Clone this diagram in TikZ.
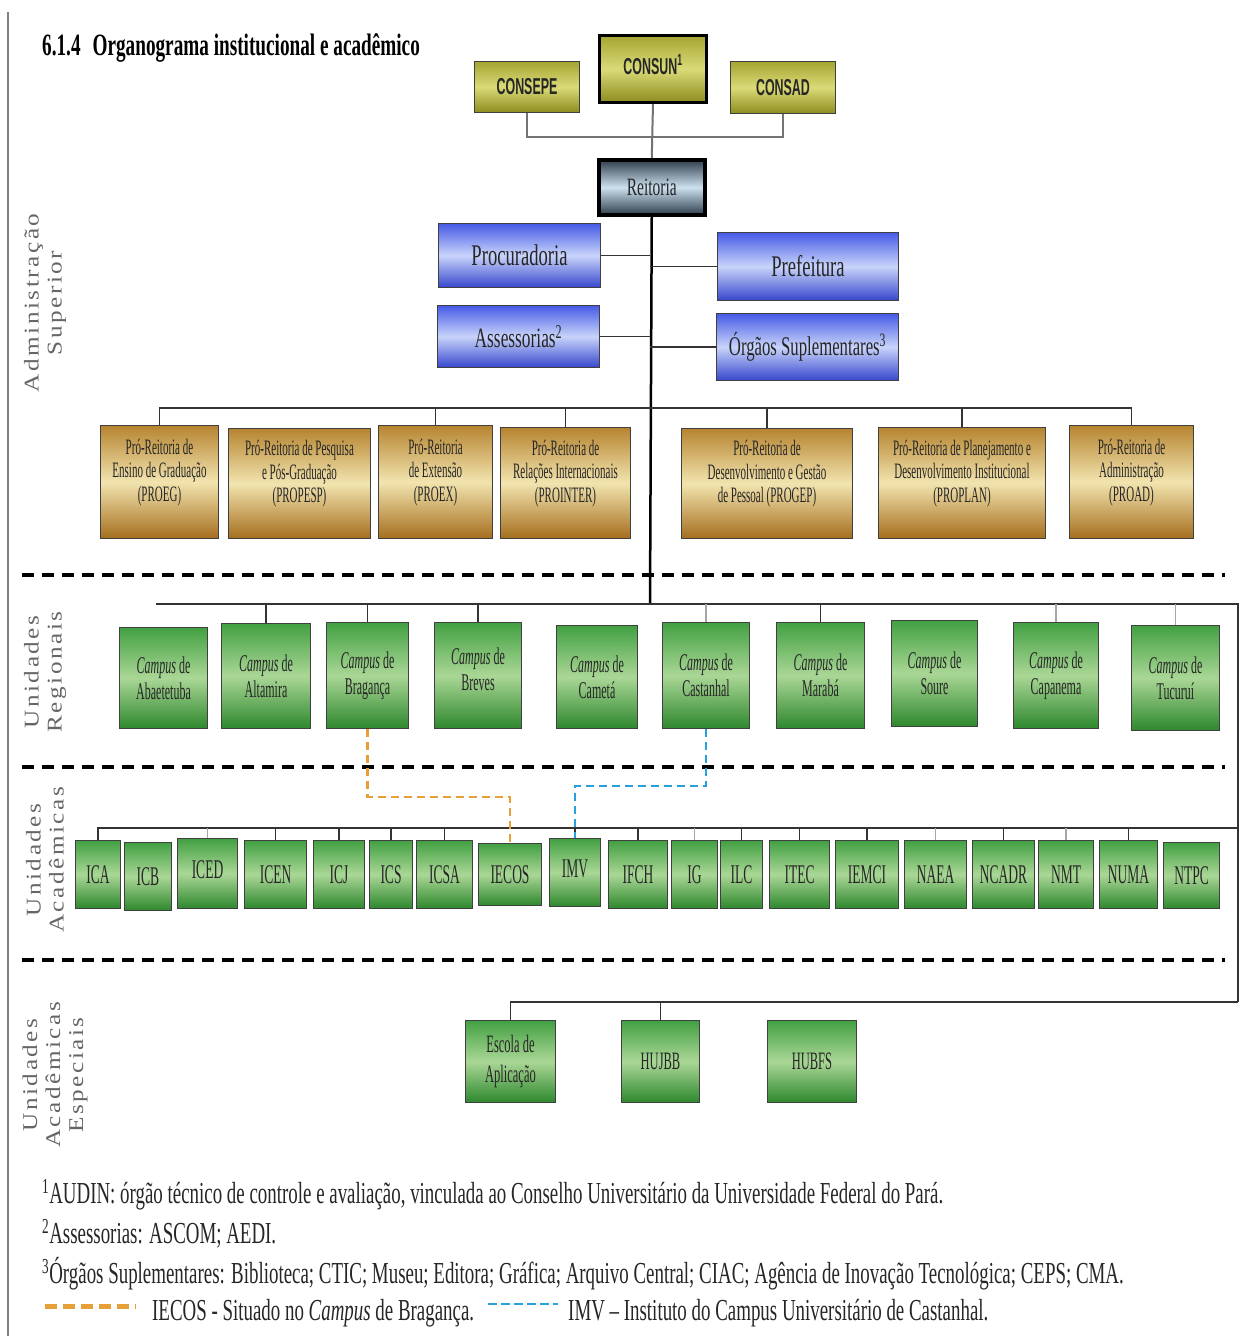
\documentclass[tikz,border=0pt]{standalone}
\usepackage{fontspec}
\setmainfont{Liberation Serif}
\newfontfamily\cs[FakeStretch=0.62]{Liberation Serif}
\newfontfamily\cst[FakeStretch=0.5]{Liberation Serif}
\newfontfamily\csb[FakeStretch=0.54]{Liberation Sans}
\newfontfamily\sidef[FakeStretch=1.2,LetterSpace=12]{Liberation Serif}
\usetikzlibrary{calc}
\newcommand{\fs}[2]{\fontsize{#1}{#2}\selectfont}
\newcommand{\lift}[1]{\rule[-#1pt]{0pt}{0pt}}
\definecolor{oliveT}{RGB}{165,165,50}
\definecolor{oliveM}{RGB}{218,218,120}
\definecolor{oliveB}{RGB}{140,140,30}
\definecolor{bluT}{RGB}{70,90,230}
\definecolor{bluM}{RGB}{200,212,250}
\definecolor{bluB}{RGB}{55,70,205}
\definecolor{goldT}{RGB}{182,132,48}
\definecolor{goldM}{RGB}{242,228,175}
\definecolor{goldB}{RGB}{165,110,30}
\definecolor{grnT}{RGB}{66,160,66}
\definecolor{grnM}{RGB}{170,215,150}
\definecolor{grnB}{RGB}{45,135,45}
\definecolor{reiT}{RGB}{45,60,75}
\definecolor{reiM}{RGB}{205,225,238}
\definecolor{orgdash}{RGB}{230,160,55}
\definecolor{bludash}{RGB}{40,160,220}
\tikzset{
  box/.style={draw=black!75, line width=1pt, inner sep=2pt, align=center, anchor=north west, text=black!85},
  olive/.style={box, top color=oliveT, bottom color=oliveB, middle color=oliveM, font=\csb\bfseries\fs{23}{25}},
  blu/.style={box, top color=bluT, bottom color=bluB, middle color=bluM},
  gold/.style={box, top color=goldT, bottom color=goldB, middle color=goldM, font=\cst\fs{22}{23.5}},
  grn/.style={box, top color=grnT, bottom color=grnB, middle color=grnM},
  camp/.style={grn, font=\cst\fs{24}{26}},
  acad/.style={grn, font=\cst\fs{27}{28}},
  spec/.style={grn, font=\cst\fs{25}{30}},
  conn/.style={draw=black!80, line width=1.4pt},
  faint/.style={draw=black!35, line width=1.2pt},
  gconn/.style={draw=black!55, line width=2pt},
  trunk/.style={draw=black, line width=2.5pt},
  sep/.style={draw=black, line width=4pt, dash pattern=on 12pt off 8pt},
  odash/.style={draw=orgdash, line width=2.5pt, dash pattern=on 8pt off 5pt},
  bdash/.style={draw=bludash, line width=2.5pt, dash pattern=on 8pt off 5pt},
  side/.style={rotate=90, align=center, font=\sidef\fs{21}{23}, text=black!60},
  foot/.style={anchor=base west, font=\cs\fs{30.5}{32}, inner sep=0pt, text=black!85}
}
\begin{document}
\begin{tikzpicture}[x=1pt,y=-1pt]
\fill[white] (0,0) rectangle (1244,1336);
\useasboundingbox (0,0) rectangle (1244,1336);
\draw[black!50, line width=1.5pt] (8,12) -- (8,1336);

% title
\node[anchor=base west, inner sep=0pt, font=\cs\bfseries\fs{31}{32}] (title) at (42,55) {6.1.4\hspace{12pt}Organograma institucional e acadêmico};

% side labels
\node[side] (labA) at (45,303) {Administração\\Superior};
\node[side] (labR) at (45,672) {Unidades\\Regionais};
\node[side] (labU) at (45,860) {Unidades\\Acadêmicas};
\node[side] (labE) at (55,1075) {Unidades\\Acadêmicas\\Especiais};

% separators
\draw[sep] (22,575) -- (1225,575);
\draw[sep] (22,767) -- (1225,767);
\draw[sep] (22,960) -- (1225,960);

% councils
\node[olive, minimum width=105pt, minimum height=51pt] (consepe) at (474,61) {CONSEPE};
\node[olive, draw=black, line width=3pt, minimum width=107pt, minimum height=67pt] (consun) at (598,34) {CONSUN\textsuperscript{1}\lift{10}};
\node[olive, minimum width=105pt, minimum height=52pt] (consad) at (730,61) {CONSAD};
\node[box, draw=black, line width=3.5pt, top color=reiT, bottom color=reiT, middle color=reiM, font=\cs\fs{25}{27}, minimum width=106pt, minimum height=55pt] (reitoria) at (597,158) {Reitoria};

\coordinate (cj) at (651,137);
\draw[gconn] (consepe.south) |- (cj) -| (consad.south);
\draw[gconn] (consun.south) -- (reitoria.north);

% staff
\node[blu, font=\cs\fs{30}{32}, minimum width=162pt, minimum height=64pt] (procuradoria) at (438,223) {Procuradoria};
\node[blu, font=\cs\fs{30}{32}, minimum width=181pt, minimum height=68pt] (prefeitura) at (717,232) {Prefeitura};
\node[blu, font=\cs\fs{28}{30}, minimum width=162pt, minimum height=62pt] (assessorias) at (437,305) {Assessorias\textsuperscript{2}};
\node[blu, font=\cs\fs{27}{29}, minimum width=182pt, minimum height=67pt] (orgaos) at (716,313) {Órgãos Suplementares\textsuperscript{3}};

\coordinate (tb) at (650,604);
\coordinate (pbus) at (650,408);
\draw[trunk] (reitoria.south) -- (tb);
\draw[conn] (procuradoria.east) -- (procuradoria.east -| tb);
\draw[conn] (assessorias.east) -- (assessorias.east -| tb);
\draw[conn] (prefeitura.west) -- (prefeitura.west -| tb);
\draw[conn] (orgaos.west) -- (orgaos.west -| tb);

% pro-reitorias
\node[gold, minimum width=118pt, minimum height=113pt] (proeg) at (100,425) {Pró-Reitoria de\\Ensino de Graduação\\(PROEG)\lift{24}};
\node[gold, minimum width=142pt, minimum height=110pt] (propesp) at (228,428) {Pró-Reitoria de Pesquisa\\e Pós-Graduação\\(PROPESP)\lift{24}};
\node[gold, minimum width=114pt, minimum height=113pt] (proex) at (378,425) {Pró-Reitoria\\de Extensão\\(PROEX)\lift{24}};
\node[gold, minimum width=130pt, minimum height=111pt] (prointer) at (500,427) {Pró-Reitoria de\\Relações Internacionais\\(PROINTER)\lift{24}};
\node[gold, minimum width=171pt, minimum height=110pt] (progep) at (681,428) {Pró-Reitoria de\\Desenvolvimento e Gestão\\de Pessoal (PROGEP)\lift{24}};
\node[gold, minimum width=167pt, minimum height=111pt] (proplan) at (878,427) {Pró-Reitoria de Planejamento e\\Desenvolvimento Institucional\\(PROPLAN)\lift{24}};
\node[gold, minimum width=124pt, minimum height=113pt] (proad) at (1069,425) {Pró-Reitoria de\\Administração\\(PROAD)\lift{24}};

\draw[conn] (proeg.north) |- (proad.north |- pbus) -- (proad.north);
\foreach \n in {proex,prointer,progep,proplan} \draw[conn] (\n.north) -- (\n.north |- pbus);

% campi
\node[camp, minimum width=88pt, minimum height=101pt] (abae) at (119,627) {\textit{Campus} de\\Abaetetuba};
\node[camp, minimum width=89pt, minimum height=105pt] (alta) at (221,623) {\textit{Campus} de\\Altamira};
\node[camp, minimum width=82pt, minimum height=106pt] (brag) at (326,622) {\textit{Campus} de\\Bragança};
\node[camp, minimum width=87pt, minimum height=106pt] (brev) at (434,622) {\textit{Campus} de\\Breves\lift{12}};
\node[camp, minimum width=81pt, minimum height=103pt] (came) at (556,625) {\textit{Campus} de\\Cametá};
\node[camp, minimum width=87pt, minimum height=106pt] (cast) at (662,622) {\textit{Campus} de\\Castanhal};
\node[camp, minimum width=88pt, minimum height=106pt] (mara) at (776,622) {\textit{Campus} de\\Marabá};
\node[camp, minimum width=86pt, minimum height=106pt] (sour) at (891,620) {\textit{Campus} de\\Soure};
\node[camp, minimum width=85pt, minimum height=106pt] (capa) at (1013,622) {\textit{Campus} de\\Capanema};
\node[camp, minimum width=88pt, minimum height=105pt] (tucu) at (1131,625) {\textit{Campus} de\\Tucuruí};

\coordinate (rc) at (1238,604);
\coordinate (ra) at (1238,828);
\coordinate (rs) at (1238,1002);
\draw[conn] ($(abae.north |- rc)+(-8,0)$) -- (rc) -- (rs);
\foreach \n in {alta,brag,brev,mara} \draw[conn] (\n.north) -- (\n.north |- rc);
\foreach \n in {cast,capa,tucu} \draw[faint] (\n.north) -- (\n.north |- rc);

% academic units
\node[acad, minimum width=45pt, minimum height=68pt] (ica) at (75,840) {ICA};
\node[acad, minimum width=47pt, minimum height=68pt] (icb) at (124,842) {ICB};
\node[acad, minimum width=60pt, minimum height=70pt] (iced) at (177,838) {ICED\lift{8}};
\node[acad, minimum width=62pt, minimum height=68pt] (icen) at (244,840) {ICEN};
\node[acad, minimum width=51pt, minimum height=68pt] (icj) at (313,840) {ICJ};
\node[acad, minimum width=43pt, minimum height=68pt] (ics) at (369,840) {ICS};
\node[acad, minimum width=56pt, minimum height=68pt] (icsa) at (416,840) {ICSA};
\node[acad, minimum width=63pt, minimum height=62pt] (iecos) at (478,843) {IECOS};
\node[acad, minimum width=51pt, minimum height=68pt] (imv) at (549,838) {IMV\lift{8}};
\node[acad, minimum width=59pt, minimum height=68pt] (ifch) at (608,840) {IFCH};
\node[acad, minimum width=46pt, minimum height=68pt] (ig) at (671,840) {IG};
\node[acad, minimum width=42pt, minimum height=68pt] (ilc) at (720,840) {ILC};
\node[acad, minimum width=60pt, minimum height=68pt] (itec) at (769,840) {ITEC};
\node[acad, minimum width=63pt, minimum height=68pt] (iemci) at (835,840) {IEMCI};
\node[acad, minimum width=62pt, minimum height=68pt] (naea) at (904,840) {NAEA};
\node[acad, minimum width=62pt, minimum height=68pt] (ncadr) at (972,840) {NCADR};
\node[acad, minimum width=55pt, minimum height=68pt] (nmt) at (1038,840) {NMT};
\node[acad, minimum width=58pt, minimum height=68pt] (numa) at (1099,840) {NUMA};
\node[acad, minimum width=56pt, minimum height=66pt] (ntpc) at (1163,842) {NTPC};

\draw[conn] (ica.north) |- (ra);
\foreach \n in {icen,icj,ics,icsa,imv,ifch,ilc,itec,iemci,ncadr,numa} \draw[conn] (\n.north) -- (\n.north |- ra);
\foreach \n in {iced,ig,naea,nmt} \draw[faint] (\n.north) -- (\n.north |- ra);

% special units
\node[spec, minimum width=90pt, minimum height=82pt] (escola) at (465,1020) {Escola de\\Aplicação};
\node[spec, minimum width=78pt, minimum height=82pt] (hujbb) at (621,1020) {HUJBB};
\node[spec, minimum width=89pt, minimum height=82pt] (hubfs) at (767,1020) {HUBFS};
\draw[conn] (rs) -| (escola.north);
\draw[conn] (hujbb.north) -- (hujbb.north |- rs);

% dashed links
\draw[odash] (brag.south) |- ($(iecos.north)+(0,-46)$) -- (iecos.north);
\draw[bdash] (cast.south) |- ($(imv.north)+(0,-52)$) -- (imv.north);

% footnotes
\node[foot] (f1) at (42,1203) {\textsuperscript{1}AUDIN: órgão técnico de controle e avaliação, vinculada ao Conselho Universitário da Universidade Federal do Pará.};
\node[foot] (f2) at (42,1243) {\textsuperscript{2}Assessorias: ASCOM; AEDI.};
\node[foot] (f3) at (42,1283) {\textsuperscript{3}Órgãos Suplementares: Biblioteca; CTIC; Museu; Editora; Gráfica; Arquivo Central; CIAC; Agência de Inovação Tecnológica; CEPS; CMA.};
\draw[draw=orgdash, line width=5pt, dash pattern=on 12pt off 6pt] (45,1306) -- (136,1306);
\node[foot] (f4) at (152,1320) {IECOS - Situado no \textit{Campus} de Bragança.};
\draw[draw=bludash, line width=2.5pt, dash pattern=on 9pt off 4pt] (488,1304) -- (558,1304);
\node[foot] (f5) at (568,1320) {IMV – Instituto do Campus Universitário de Castanhal.};
\end{tikzpicture}
\end{document}
